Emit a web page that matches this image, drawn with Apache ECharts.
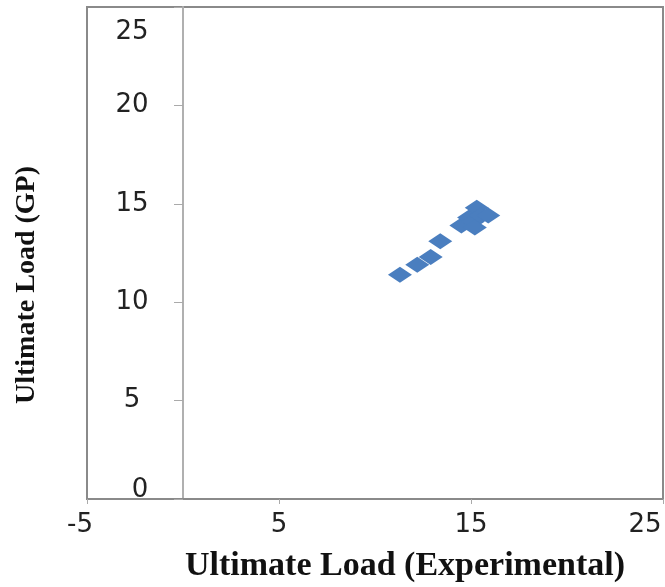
<!DOCTYPE html>
<html><head><meta charset="utf-8">
<script src="https://cdn.jsdelivr.net/npm/echarts@6/dist/echarts.min.js"></script>
<style>html,body{margin:0;padding:0;background:#fff}#c{width:665px;height:587px}</style>
</head><body><div id="c"></div>
<script>
const expLoad = [11.3, 12.2, 12.9, 13.4, 14.5, 14.9, 15.1, 15.2, 15.3, 15.5, 15.9];
const gpLoad  = [11.4, 11.9, 12.3, 13.1, 13.9, 14.3, 14.1, 13.8, 14.8, 14.4, 14.4];
const xTicks = [-5, 5, 15, 25];
const yTicks = [0, 5, 10, 15, 20, 25];

const labelFont = {fontFamily: 'DejaVu Sans', fontSize: 26, color: '#222'};
const chart = echarts.init(document.getElementById('c'), null, {renderer: 'canvas'});
chart.setOption({
  animation: false,
  backgroundColor: '#fff',
  grid: {left: 87, top: 7, right: 2, bottom: 88, show: true, borderColor: '#8a8a8a', borderWidth: 2,
         containLabel: false, outerBoundsMode: 'none'},
  xAxis: {
    type: 'value', min: xTicks[0], max: xTicks[xTicks.length - 1], interval: xTicks[1] - xTicks[0],
    splitLine: {show: false},
    axisLine: {show: true, lineStyle: {color: '#8a8a8a', width: 2}},
    axisTick: {show: true, length: 5, lineStyle: {color: '#aaa'}},
    axisLabel: Object.assign({}, labelFont, {
      margin: 13,
      formatter: v => v === xTicks[0] ? '{a|' + v + '}' : (v === xTicks[xTicks.length - 1] ? '{b|' + v + '}' : '{n|' + v + '}'),
      rich: {
        a: Object.assign({}, labelFont, {padding: [0, 14, 0, 0]}),
        b: Object.assign({}, labelFont, {padding: [0, 36, 0, 0]}),
        n: Object.assign({}, labelFont)
      }
    }),
    name: 'Ultimate Load (Experimental)', nameLocation: 'middle', nameGap: 50,
    nameTextStyle: {fontFamily: 'Liberation Serif', fontWeight: 'bold', fontSize: 34, color: '#111', padding: [0, 0, 0, 60]}
  },
  yAxis: {
    type: 'value', min: yTicks[0], max: yTicks[yTicks.length - 1], interval: yTicks[1] - yTicks[0],
    splitLine: {show: false},
    axisLine: {show: true, onZero: true, lineStyle: {color: '#b0b0b0', width: 2}},
    axisTick: {show: true, length: 9, lineStyle: {color: '#aaa'}},
    axisLabel: Object.assign({}, labelFont, {
      align: 'center', margin: -45,
      formatter: v => v === yTicks[yTicks.length - 1] ? '{t|' + v + '}' : (v === yTicks[0] ? '{z|' + v + '}' : '{n|' + v + '}'),
      rich: {
        t: Object.assign({}, labelFont, {padding: [50, 0, 0, 0]}),
        z: Object.assign({}, labelFont, {padding: [0, 0, 18, 16]}),
        n: Object.assign({}, labelFont)
      }
    }),
    name: 'Ultimate Load (GP)', nameLocation: 'middle', nameGap: 46, nameRotate: 90,
    nameTextStyle: {fontFamily: 'Liberation Serif', fontWeight: 'bold', fontSize: 28, color: '#111', padding: [0, 64, 0, 0]}
  },
  series: [{
    type: 'scatter', symbol: 'diamond', symbolSize: [24, 16],
    itemStyle: {color: '#4a7ebf', opacity: 1},
    data: expLoad.map((x, i) => [x, gpLoad[i]])
  }]
});
</script></body></html>
